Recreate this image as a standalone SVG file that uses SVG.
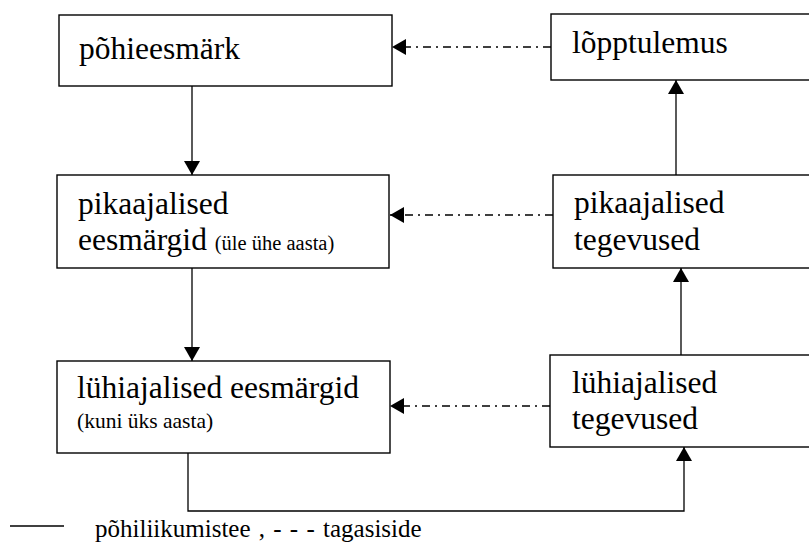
<svg xmlns="http://www.w3.org/2000/svg" width="809" height="545" viewBox="0 0 809 545">
  <style>
    .box { fill: #fff; stroke: #000; stroke-width: 1.4; }
    text { font-family: 'Liberation Serif', 'DejaVu Serif', serif; font-size: 31.5px; fill: #000; }
    .sm { font-size: 20.5px; }
    .note { font-size: 21.5px; }
    .legend { font-size: 25px; word-spacing: 2px; }
    .flow { fill: none; stroke: #000; stroke-width: 1.3; }
    .fb { fill: none; stroke: #000; stroke-width: 1.4; stroke-dasharray: 8 5 2 5; }
  </style>
  <defs>
    <marker id="head" markerUnits="userSpaceOnUse" markerWidth="16" markerHeight="16" viewBox="0 0 14 16" refX="14" refY="8" orient="auto">
      <path d="M0,0 L14,8 L0,16 Z" fill="#000"/>
    </marker>
  </defs>

  <g id="pohieesmark">
    <rect class="box" x="59" y="15" width="333" height="71"/>
    <text x="79" y="59">põhieesmärk</text>
  </g>
  <g id="lopptulemus">
    <rect class="box" x="551" y="14" width="265" height="66"/>
    <text x="572" y="53">lõpptulemus</text>
  </g>
  <g id="pikaajalised-eesmargid">
    <rect class="box" x="57" y="175" width="332" height="93"/>
    <text x="78" y="214">pikaajalised</text>
    <text x="78" y="250">eesmärgid <tspan class="sm">(üle ühe aasta)</tspan></text>
  </g>
  <g id="pikaajalised-tegevused">
    <rect class="box" x="553" y="175" width="263" height="93"/>
    <text x="574" y="213">pikaajalised</text>
    <text x="574" y="250">tegevused</text>
  </g>
  <g id="luhiajalised-eesmargid">
    <rect class="box" x="57" y="361" width="333" height="92"/>
    <text x="77" y="398">lühiajalised eesmärgid</text>
    <text class="note" x="77" y="428">(kuni üks aasta)</text>
  </g>
  <g id="luhiajalised-tegevused">
    <rect class="box" x="550" y="355" width="266" height="92"/>
    <text x="572" y="393">lühiajalised</text>
    <text x="572" y="429">tegevused</text>
  </g>

  <g id="connectors">
    <path class="flow" d="M192,86 V175" marker-end="url(#head)"/>
    <path class="flow" d="M192,268 V361" marker-end="url(#head)"/>
    <path class="flow" d="M188,453 V511 H684 V447" marker-end="url(#head)"/>
    <path class="flow" d="M681,355 V268" marker-end="url(#head)"/>
    <path class="flow" d="M676,175 V80" marker-end="url(#head)"/>
    <path class="fb" d="M551,47 H392" marker-end="url(#head)"/>
    <path class="fb" d="M553,215 H390" marker-end="url(#head)"/>
    <path class="fb" d="M550,406 H390" marker-end="url(#head)"/>
  </g>

  <g id="legend">
    <line x1="10" y1="526" x2="64" y2="526" stroke="#000" stroke-width="1.3"/>
    <text class="legend" x="95" y="537">põhiliikumistee , - - - tagasiside</text>
  </g>
</svg>
